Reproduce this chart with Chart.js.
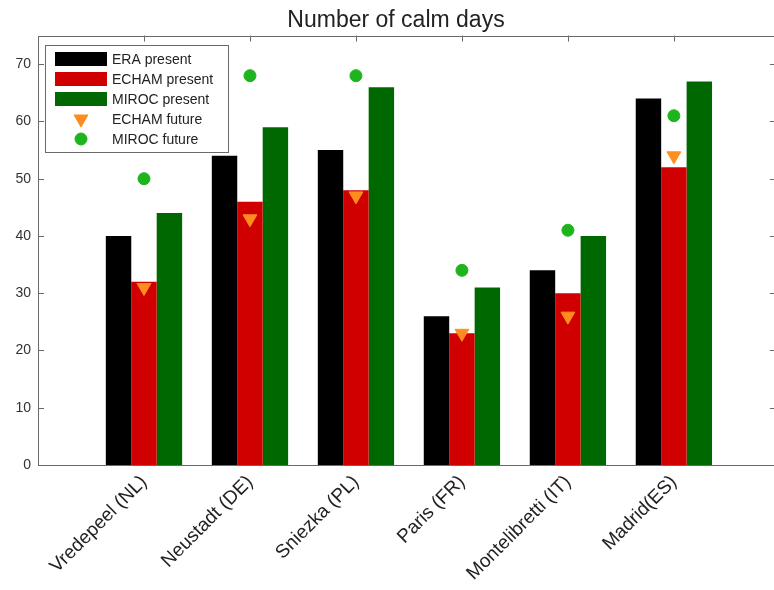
<!DOCTYPE html>
<html>
<head>
<meta charset="utf-8">
<title>Number of calm days</title>
<script src="https://cdn.jsdelivr.net/npm/chart.js@4.4.1/dist/chart.umd.min.js"></script>
<style>
  html, body { margin: 0; padding: 0; background: #fff; overflow: hidden; }
  #wrap { width: 802px; height: 590px; }
</style>
</head>
<body>
<div id="wrap"><canvas id="myChart" width="802" height="590"></canvas></div>
<script>
// stations along the x axis
const categories = ["Vredepeel (NL)", "Neustadt (DE)", "Sniezka (PL)", "Paris (FR)", "Montelibretti (IT)", "Madrid(ES)"];

// calm days per year
const eraPresent = [40, 54, 55, 26, 34, 64];
const echamPresent = [32, 46, 48, 23, 30, 52];
const mirocPresent = [44, 59, 66, 31, 40, 67];
const echamFuture = [31, 43, 47, 23, 26, 54];
const mirocFuture = [50, 68, 68, 34, 41, 61];

const yTicks = [0, 10, 20, 30, 40, 50, 60, 70];

const FONT = "'Liberation Sans', Arial, Helvetica, sans-serif";

// empty slot on both ends so the axis runs from 0 to 7 like the original plot
const pad = (arr) => [null, ...arr, null];
const labels = ["", ...categories, ""];

const chartDOM = document.getElementById("myChart");

// box around the axes with inward ticks on every side
const framePlugin = {
  id: "frame",
  beforeDatasetsDraw(chart) {
    const { ctx, chartArea: a, scales } = chart;
    ctx.save();
    ctx.strokeStyle = "#6a6a6a";
    ctx.lineWidth = 1;
    ctx.strokeRect(Math.round(a.left) + 0.5, Math.round(a.top) + 0.5,
      Math.round(a.right - a.left), Math.round(a.bottom - a.top));
    const len = 6;
    ctx.beginPath();
    yTicks.forEach((v) => {
      const y = Math.round(scales.y.getPixelForValue(v)) + 0.5;
      ctx.moveTo(a.left, y); ctx.lineTo(a.left + len, y);
      ctx.moveTo(a.right, y); ctx.lineTo(a.right - len - 4, y);
    });
    categories.forEach((c, i) => {
      const x = Math.round(scales.x.getPixelForValue(i + 1)) + 0.5;
      ctx.moveTo(x, a.top); ctx.lineTo(x, a.top + len);
      ctx.moveTo(x, a.bottom); ctx.lineTo(x, a.bottom - len);
    });
    ctx.stroke();
    ctx.restore();
  },
};

// legend box in the upper left corner of the axes
const legendBoxPlugin = {
  id: "legendBox",
  afterDraw(chart) {
    const { ctx } = chart;
    const box = { x: 45, y: 45, w: 183, h: 107 };
    ctx.save();
    ctx.fillStyle = "#fff";
    ctx.fillRect(box.x, box.y, box.w, box.h);
    ctx.strokeStyle = "#6a6a6a";
    ctx.lineWidth = 1;
    ctx.strokeRect(box.x + 0.5, box.y + 0.5, box.w, box.h);
    ctx.font = "14px " + FONT;
    ctx.textBaseline = "middle";
    chart.data.datasets.forEach((ds, i) => {
      const cy = 59 + i * 20;
      if (ds.type === "line") {
        ctx.fillStyle = ds.pointBackgroundColor;
        ctx.strokeStyle = ds.pointBorderColor;
        ctx.lineWidth = 1;
        Chart.helpers.drawPoint(ctx, {
          pointStyle: ds.pointStyle,
          radius: ds.pointRadius,
          rotation: ds.pointRotation || 0,
          borderWidth: 1,
        }, 81, cy);
      } else {
        ctx.fillStyle = ds.backgroundColor;
        ctx.fillRect(55, cy - 7, 52, 14);
      }
      ctx.fillStyle = "#222";
      ctx.fillText(ds.label, 112, cy + 1);
    });
    ctx.restore();
  },
};

const config = {
  type: "bar",
  data: {
    labels,
    datasets: [
      { label: "ERA present", data: pad(eraPresent), backgroundColor: "#000000" },
      { label: "ECHAM present", data: pad(echamPresent), backgroundColor: "rgb(208,0,0)" },
      { label: "MIROC present", data: pad(mirocPresent), backgroundColor: "rgb(0,104,0)" },
      {
        type: "line", label: "ECHAM future", data: pad(echamFuture), showLine: false, order: -1,
        pointStyle: "triangle", pointRotation: 180, pointRadius: 8,
        pointBackgroundColor: "rgb(255,140,30)", pointBorderColor: "rgb(255,140,30)",
      },
      {
        type: "line", label: "MIROC future", data: pad(mirocFuture), showLine: false, order: -1,
        pointStyle: "circle", pointRadius: 6,
        pointBackgroundColor: "rgb(30,180,30)", pointBorderColor: "rgb(30,180,30)",
      },
    ],
  },
  options: {
    responsive: false,
    animation: false,
    layout: { padding: { left: 0, right: 10, top: 0, bottom: 0 } },
    datasets: {
      bar: { categoryPercentage: 0.72, barPercentage: 1.0 },
    },
    plugins: {
      legend: { display: false },
      tooltip: { enabled: false },
      title: {
        display: true,
        text: "Number of calm days",
        color: "#222",
        font: { family: FONT, size: 23, weight: "normal" },
        padding: { top: 7, bottom: 1 },
      },
    },
    scales: {
      x: {
        offset: false,
        grid: { display: false, drawTicks: false },
        border: { display: false },
        ticks: {
          autoSkip: false, minRotation: 45, maxRotation: 45, padding: 6,
          color: "#222", font: { family: FONT, size: 19 },
        },
        afterFit(scale) { scale.height = 125; },
      },
      y: {
        min: 0, max: 75,
        grid: { display: false, drawTicks: false },
        border: { display: false },
        ticks: { padding: 7, color: "#333", font: { family: FONT, size: 14 }, includeBounds: false },
        afterBuildTicks(scale) { scale.ticks = yTicks.map((v) => ({ value: v })); },
        afterFit(scale) { scale.width = 38; },
      },
    },
  },
  plugins: [framePlugin, legendBoxPlugin],
};

new Chart(chartDOM, config);
</script>
</body>
</html>
